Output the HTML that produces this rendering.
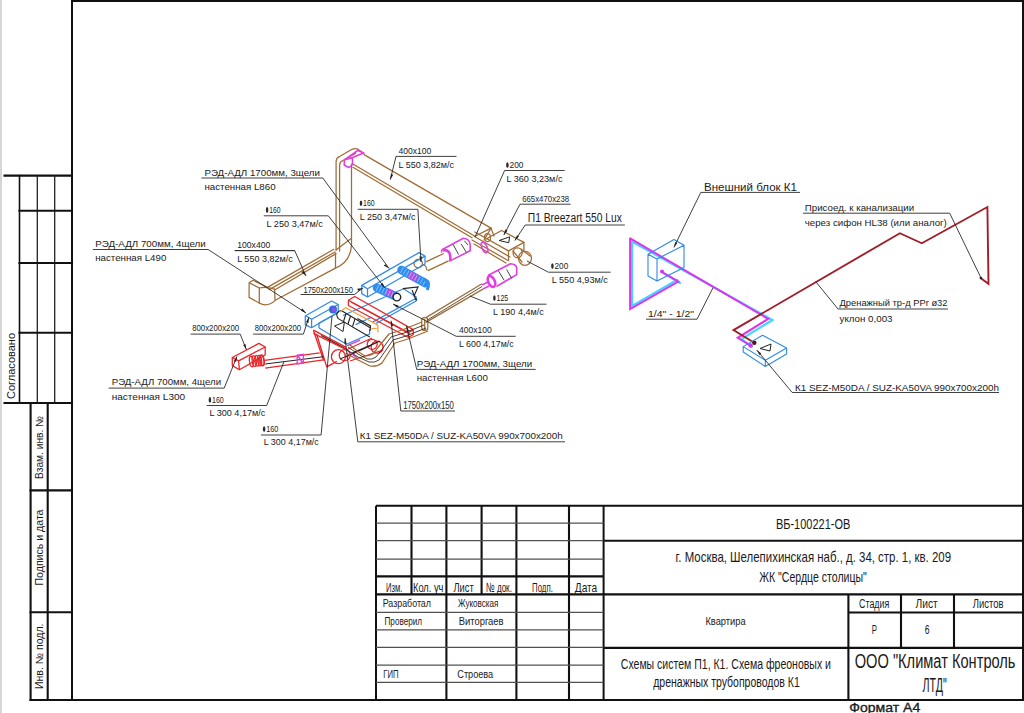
<!DOCTYPE html>
<html><head><meta charset="utf-8">
<style>
html,body{margin:0;padding:0;background:#fff;width:1024px;height:713px;overflow:hidden;}
svg{position:absolute;left:0;top:0;display:block;}
text{font-family:"Liberation Sans",sans-serif;fill:#1a1a1a;}
.g{font-family:"Liberation Sans",sans-serif;}
</style></head><body>
<svg width="1024" height="713" viewBox="0 0 1024 713">
<!-- left gray strip -->
<rect x="0" y="0" width="2" height="713" fill="#d6d6d6"/>
<!-- main frame -->
<g stroke="#111" fill="none" stroke-linecap="square">
<line x1="72" y1="1" x2="1023" y2="1" stroke-width="2"/>
<line x1="72" y1="1" x2="72" y2="700" stroke-width="2"/>
<line x1="1023" y1="1" x2="1023" y2="700" stroke-width="2"/>
<line x1="30.5" y1="700" x2="1023" y2="700" stroke-width="2"/>
<!-- left panel upper -->
<line x1="4.5" y1="175.6" x2="72" y2="175.6" stroke-width="2.1"/>
<line x1="19.5" y1="175.6" x2="19.5" y2="403" stroke-width="1.6"/>
<line x1="37.3" y1="175.6" x2="37.3" y2="403" stroke-width="1.3" stroke="#222"/>
<line x1="54.7" y1="175.6" x2="54.7" y2="403" stroke-width="1.3" stroke="#222"/>
<line x1="19.5" y1="210.7" x2="72" y2="210.7" stroke-width="2.1"/>
<line x1="19.5" y1="263" x2="72" y2="263" stroke-width="2.1"/>
<line x1="19.5" y1="332.8" x2="72" y2="332.8" stroke-width="2.1"/>
<line x1="4.5" y1="403" x2="72" y2="403" stroke-width="2.1"/>
<!-- left panel lower -->
<line x1="30.6" y1="403" x2="30.6" y2="700" stroke-width="2.1"/>
<line x1="47.7" y1="403" x2="47.7" y2="700" stroke-width="2.1"/>
<line x1="30.6" y1="490.4" x2="72" y2="490.4" stroke-width="2.1"/>
<line x1="30.6" y1="612.2" x2="72" y2="612.2" stroke-width="2.1"/>
</g>
<g font-size="10.5" fill="#222">
<text transform="translate(14.9,399) rotate(-90)" textLength="66" lengthAdjust="spacingAndGlyphs">Согласовано</text>
<text transform="translate(42.6,479) rotate(-90)" textLength="63" lengthAdjust="spacingAndGlyphs">Взам. инв. №</text>
<text transform="translate(42.6,585.5) rotate(-90)" textLength="76" lengthAdjust="spacingAndGlyphs">Подпись и дата</text>
<text transform="translate(42.6,689) rotate(-90)" textLength="65.5" lengthAdjust="spacingAndGlyphs">Инв. № подл.</text>
</g>


<!-- ================= DRAWING ================= -->
<g id="brown" fill="none" stroke="#a06c34" stroke-width="1.25" stroke-linejoin="round" stroke-linecap="round">
<!-- left terminal -->
<path d="M249.1,282.7 L249.1,297.4 L259.3,303 Q267,307.5 275,300.6 L274.6,289.2 Q266,286.5 259.3,288 L249.1,282.7 L253,280.3 L267.5,287.4"/>
<path d="M259.3,288 L259.3,303"/>
<!-- duct 100x400 -->
<path d="M267.5,287.4 L333.8,249.3"/>
<path d="M269.3,289.6 L334.9,252"/>
<path d="M274.6,290 L336,253.6"/>
<path d="M275.2,300.3 L335.5,268.1"/>
<path d="M335.5,252.9 L335.5,268.1"/>
<!-- elbow + vertical -->
<path d="M335.5,268.1 Q350.5,262 351.5,245 L351.5,164"/>
<path d="M336.1,250 L336.1,161.5 Q336.3,157.5 340,156.3 L352,149.3 Q356,147.8 359,150 L364,153.6"/>
<path d="M339.6,251 L339.6,165 Q339.8,161.5 343,160.5 L355.5,153.5"/>
<path d="M336,250 L350.7,238.8"/>
<!-- long duct 400x100 -->
<path d="M364,154.6 L491,228.1"/>
<path d="M352.9,164 L474.5,236"/>
<path d="M352.9,167.2 L472,237.8"/>
<!-- AHU -->
<path d="M486.1,239 L501.5,230.5 L523.9,242.4 L508.5,250.9 L474.8,232"/>
<path d="M523.9,242.4 L523.9,250.5 M508.5,250.9 L508.5,260.7 L472,240 M491,228.1 L484,240"/>
<path d="M491,228.1 L494,236 M474.5,236.5 L491,228.1"/>
<ellipse cx="487.5" cy="237.5" rx="3" ry="4" />
<!-- outlet -->
<ellipse cx="517.6" cy="252.8" rx="4.5" ry="5" />
<ellipse cx="525" cy="258.3" rx="6.5" ry="7" />
<path d="M513,251 L522,262 M521,249 L530,256"/>
<!-- duct from AHU going down-left (200 dia) -->
<path d="M474.5,236.5 L510,257 M474,244 L506,263"/>
<!-- small brown pipe 160 to blue box -->
<path d="M426.5,261.6 L443.2,253.7 M428.5,270.4 L448.1,261.1"/>
<circle cx="418.2" cy="263.6" r="4.2"/>
<path d="M421,266 Q425,262 427,270"/>
</g>
<g id="magenta" fill="none" stroke="#e040e0" stroke-width="1.6" stroke-linejoin="round">
<!-- top connector -->
<path d="M344.3,159.9 L357.8,150.5 L363.7,152.9 L352.5,157.6 Z M344.3,159.9 L344.3,165.2 L349,167.5 L352.5,164.6 L352.5,157.6"/>
<!-- silencer upper (pipe 160) -->
<path d="M441.9,249.7 L463.3,238.3 Q470,239 470.2,245 L470.2,250.8 L451,260.4"/>
<path d="M443,250.5 Q447,249 449.5,253 Q451,258 450,261.5" stroke-width="2.6"/>
<path d="M441.9,249.7 L441.5,252.5"/>
<!-- silencer ø200 (near AHU) -->

<ellipse cx="484.5" cy="247.5" rx="2.5" ry="5.5" transform="rotate(-25 484.5 247.5)"/>
<!-- silencer lower (125) -->
<path d="M488.3,275.2 L510.4,263.8 Q516,264 516.7,268 L516.7,274.6 L496.5,286.5"/>
<ellipse cx="491.5" cy="281.5" rx="3.2" ry="5.8" transform="rotate(-25 491.5 281.5)" stroke-width="2.6"/>
<path d="M482,285 L488,282 M483,289 L489,286"/>
</g>
<g fill="none" stroke="#333" stroke-width="0.9">
<path d="M453.1,244.4 L458.5,254.5 M461.1,243.9 L466.4,252.4 M464.3,240.7 L468,245"/>
<path d="M498.4,270.8 L504.1,280.2 M506.6,269.5 L511.6,278.3"/>
</g>
<g id="blue" fill="none" stroke="#2e8ae6" stroke-width="1.25" stroke-linejoin="round">
<!-- box 1750x200x150 -->
<path d="M361.7,285.4 L419.1,252.6 L425,256.1 L367.5,288.8 Z"/>
<path d="M361.7,285.4 L361.7,293.6 L367.5,297 L367.5,288.8 M367.5,297 L425,264 L425,256.1"/>
<!-- box 800x200x200 -->
<path d="M305.6,315.8 L331.6,301 L338.2,304.5 L311.6,319.3 Z"/>
<path d="M305.3,315.8 L305.3,324.9 L311.6,327.7 L311.6,319.3 M311.6,327.7 L338.2,312.5 L338.2,304.5"/>
<!-- K1 unit -->
<path d="M319,328 L346.5,344.3 L369.6,334 L369.6,329"/>
<path d="M319,328 L319,323 L337,313"/>
<path d="M343,315.5 L403.5,288.8 L416.1,296.8 L416.1,301 L376,323.5"/>
<path d="M372.6,322.1 L416.1,298.2"/>
<path d="M355.6,324.6 L372,317"/>
</g>
<g fill="none" stroke="#2f8cf0" stroke-width="8.6" stroke-linecap="round">
<path d="M401.5,270 L425.5,283.2"/>
<path d="M377,287.8 L394.5,295.8"/>
</g>
<g fill="none" stroke="#b848e0" stroke-width="7">
<path d="M409,274.2 L417.5,278.8"/>
<path d="M386.5,291.2 L393,294.3"/>
</g>
<g fill="none" stroke="#a8dcff" stroke-width="6" stroke-dasharray="0.9 2.3" opacity="0.75">
<path d="M401.5,270 L425.5,283.2"/>
<path d="M377,287.8 L394.5,295.8"/>
</g>
<path d="M424,279 Q431,283 427,290" fill="none" stroke="#2f8cf0" stroke-width="3"/>
<circle cx="333" cy="309.5" r="4" fill="#2b6fe0"/>
<circle cx="334" cy="310" r="2" fill="#b040e0"/>
<circle cx="396.9" cy="297.1" r="3.8" fill="#fff" stroke="#222" stroke-width="1.4"/>
<g fill="none" stroke="#222" stroke-width="1.1">
<path d="M321.25,335.6 L346.25,348.9"/>
<path d="M341.3,310.5 L370.6,328 M338.3,318.6 L369.8,337 M341.3,310.5 Q334,312 338.3,318.6"/>
<path d="M346,313.5 L343.5,321.5 M350.5,316 L348,324 M355,318.7 L352.5,326.7"/>
<path d="M357.4,318.6 L370.6,325.9 L370,331"/>
<path d="M402.9,288.6 L418,287 L414,296 L417,300.4 M412,290 L416,300"/>
</g>
<path d="M499.1,240.5 L509.7,236.9 L508.7,242.7 Z" fill="none" stroke="#222" stroke-width="1"/>
<path d="M334.5,326 L344.4,322 L343,331.6 Z" fill="none" stroke="#222" stroke-width="1"/>
<g id="red" fill="none" stroke="#e8262a" stroke-width="1.3" stroke-linejoin="round">
<!-- red box left 800x200x200 -->
<path d="M232.3,357.5 L258.9,343.4 L265.2,347 L238.6,360.8 Z"/>
<path d="M232.3,357.5 L232.3,365.6 L239.4,369.7 L238.6,360.8 M239.4,369.7 L265.2,355 L265.2,347"/>
<ellipse cx="251.5" cy="361.5" rx="2" ry="5.3" transform="rotate(-8 251.5 361.5)"/>
<ellipse cx="254.2" cy="361.2" rx="2" ry="5.3" transform="rotate(-8 254.2 361.2)"/>
<ellipse cx="256.9" cy="360.9" rx="2" ry="5.3" transform="rotate(-8 256.9 360.9)"/>
<ellipse cx="259.6" cy="360.6" rx="2" ry="5.3" transform="rotate(-8 259.6 360.6)"/>
<ellipse cx="262" cy="360.3" rx="2" ry="5.3" transform="rotate(-8 262 360.3)" stroke-width="1.8"/>
<!-- red pipe 160 -->
<path d="M264.4,360.3 L319.7,352.8 M265.2,368.1 L323.6,359.8"/>
<!-- red box 1750x200x150 -->
<path d="M348.4,300.3 L354.7,296.5 L413.2,329.6 L408.4,332.6 Z M348.4,300.3 L348.4,305.5 L408.4,337.5 L408.4,332.6 M408.4,337.5 L413.2,334.5 L413.2,329.6"/>
<path d="M351,302 L410,334"/>
<!-- tray -->
<path d="M313.4,330.2 L346.25,347.3 M313.4,333.3 L346.25,349.7"/>
<path d="M313.4,330.2 L323.6,360.6 M316.6,334 L326.7,366.9 L336.9,361.4"/>
<!-- elbows -->
<circle cx="338.4" cy="356.7" r="7"/>
<circle cx="344.7" cy="355.2" r="5.5"/>
<circle cx="372.2" cy="344.3" r="5"/>
<circle cx="377.1" cy="347.2" r="6"/>
<path d="M346,350 L372,338 M346,357 L378,342 M350,361 L383,350"/>
</g>
<g fill="none" stroke="#222" stroke-width="1">
<path d="M265.2,364 L323.6,356.7"/>
<path d="M340,359 L372,345 M352,353 L380,341"/>
</g>
<g fill="none" stroke="#e040e0" stroke-width="1.4">
<path d="M297.2,355.2 L303.4,354.4 L303.4,363.2 L297.2,364 Z M297.5,355.5 L303,363"/>
<path d="M347,345.8 L360,340 M350,352 L357,358"/>
</g>
<g fill="none" stroke="#f0a040" stroke-width="1.2">
<path d="M339.8,312 L345.7,307.6 L377.9,325.2 L377.9,332.5 M371.3,328.8 L377.9,328"/>
</g>
<g fill="none" stroke="#a06c34" stroke-width="1.25" stroke-linejoin="round">
<path d="M425.5,317.9 L482,283.7 M425.5,322.6 L482.9,289.1"/>
<rect x="421.7" y="317.5" width="6.1" height="12.8" rx="2.6"/>
<path d="M424.7,319 L424.7,330"/>
<path d="M428,331 L408,339 L395,343 L389,352 L382,363 Q377,367 370,366 L358,360 L346,353"/>
<path d="M422,322 L402,330 L389,334 L380,345 L373,354 Q370,356 365,356 L357,351 L349,344"/>
</g>
<g fill="none" stroke="#3a2a1a" stroke-width="0.9">
<path d="M427,320.3 L482,286.5" stroke="#4a3a2a"/>
<path d="M426,328 L406,336 L393,340 L386,350 L379,360 Q375,363 369,362 L358,357 L347,350"/>
<path d="M424,325 L404,333 L391,337 L383,348 L376,357 Q372,360 367,359 L358,354 L348,347"/>
</g>

<!-- ============== LEADERS ============== -->
<g fill="none" stroke="#2a2a2a" stroke-width="0.9">
<path d="M201.3,178 L322.8,178 L389.2,268.6"/>
<path d="M92.8,249.5 L208.1,249.5 L306,313"/>
<path d="M263.75,215.8 L328.3,215.8 L385,288"/>
<path d="M234.8,250.6 L294.7,250.6 L306,276"/>
<path d="M300.5,294.5 L354.4,294.5 L363,288"/>
<path d="M564.7,170.5 L504.6,170.5 L475.1,236.9"/>
<path d="M520,204.2 L570.6,204.2 M520,204.2 L503.8,235.1"/>
<path d="M525.2,225 L624.8,225 M525.2,225 L514.9,240.5"/>
<path d="M548.4,272.2 L610.6,272.2 M548.4,272.2 L527,261"/>
<path d="M490.4,304.2 L546.5,304.2 M490.4,304.2 L469.9,296"/>
<path d="M456.2,336.3 L515.7,336.3 M456.2,336.3 L393,304"/>
<path d="M416.7,369.4 L535.7,369.4 M416.7,369.4 L406.5,326"/>
<path d="M400.8,411 L455,411 M400.8,411 L391.1,320.8"/>
<path d="M357.8,441.8 L565,441.8 M357.8,441.8 L345,338"/>
<path d="M260.9,435 L321.1,435 L332,316"/>
<path d="M206.7,405.5 L266.7,405.5 L283.9,361.9"/>
<path d="M108.6,388.1 L224.2,388.1 L237,356.4"/>
<path d="M190.6,334.1 L240.2,334.1 L246.4,349.7"/>
<path d="M253.1,334.1 L303.4,334.1 L308.9,317.3"/>
<path d="M234.8,250.6 L294.7,250.6"/>
<path d="M396,156.4 L456.5,156.4 M396,156.4 L390.3,179.7"/>
<path d="M357.7,209.3 L417.9,209.3 L421,262"/>
</g>
<g fill="#2a2a2a" font-size="9.4">
<text x="204.4" y="175.9" textLength="115.6" lengthAdjust="spacingAndGlyphs">РЭД-АДЛ 1700мм, 3щели</text>
<text x="204.4" y="189.7" textLength="71.2" lengthAdjust="spacingAndGlyphs">настенная L860</text>
<text x="95.2" y="247.3" textLength="110.6" lengthAdjust="spacingAndGlyphs">РЭД-АДЛ 700мм, 4щели</text>
<text x="95.2" y="261.25" textLength="71.1" lengthAdjust="spacingAndGlyphs">настенная L490</text>
<text x="111.7" y="385" textLength="109.4" lengthAdjust="spacingAndGlyphs">РЭД-АДЛ 700мм, 4щели</text>
<text x="111.7" y="399.8" textLength="73.5" lengthAdjust="spacingAndGlyphs">настенная  L300</text>
<text x="416.7" y="366.6" textLength="115.4" lengthAdjust="spacingAndGlyphs">РЭД-АДЛ 1700мм, 3щели</text>
<text x="416.7" y="380.9" textLength="71.1" lengthAdjust="spacingAndGlyphs">настенная L600</text>
<text x="527.8" y="222.1" font-size="12.5" textLength="94" lengthAdjust="spacingAndGlyphs">П1 Breezart 550 Lux</text>
<text x="359.7" y="439.4" textLength="203.1" lengthAdjust="spacingAndGlyphs">К1 SEZ-M50DA / SUZ-KA50VA 990x700x200h</text>
<text x="522.2" y="201.6" font-size="8.8" textLength="46.9" lengthAdjust="spacingAndGlyphs">665x470x238</text>
<text x="303.5" y="292.6" font-size="9.3" textLength="49.4" lengthAdjust="spacingAndGlyphs">1750x200x150</text>
<text x="403.2" y="408.7" font-size="10" textLength="50.6" lengthAdjust="spacingAndGlyphs">1750x200x150</text>
<text x="192.2" y="331.4" font-size="8.3" textLength="46.9" lengthAdjust="spacingAndGlyphs">800x200x200</text>
<text x="254.7" y="331.4" font-size="8.3" textLength="46.4" lengthAdjust="spacingAndGlyphs">800x200x200</text>
</g>
<g fill="#2a2a2a" font-size="8.6">
<ellipse cx="267.1" cy="210.0" rx="1.25" ry="2.9"/><text x="269.2" y="213.1" textLength="11.4" lengthAdjust="spacingAndGlyphs">160</text>
<text x="266.6" y="226.7" textLength="56.2" lengthAdjust="spacingAndGlyphs">L 250 3,47м/с</text>
<text x="237.2" y="248.4" textLength="33.1" lengthAdjust="spacingAndGlyphs">100x400</text>
<text x="237.2" y="261.6" textLength="55.5" lengthAdjust="spacingAndGlyphs">L 550 3,82м/с</text>
<ellipse cx="507.4" cy="165.2" rx="1.25" ry="2.9"/><text x="509.5" y="168.3" textLength="13.9" lengthAdjust="spacingAndGlyphs">200</text>
<text x="506.4" y="181.5" textLength="56.1" lengthAdjust="spacingAndGlyphs">L 360 3,23м/с</text>
<text x="398.5" y="153.9" textLength="32.8" lengthAdjust="spacingAndGlyphs">400x100</text>
<text x="398.5" y="167.8" textLength="55.5" lengthAdjust="spacingAndGlyphs">L 550 3,82м/с</text>
<ellipse cx="361.0" cy="203.3" rx="1.25" ry="2.9"/><text x="363.1" y="206.4" textLength="11.6" lengthAdjust="spacingAndGlyphs">160</text>
<text x="359.7" y="220.4" textLength="56" lengthAdjust="spacingAndGlyphs">L 250 3,47м/с</text>
<ellipse cx="552.4" cy="266.1" rx="1.25" ry="2.9"/><text x="554.5" y="269.2" textLength="13.7" lengthAdjust="spacingAndGlyphs">200</text>
<text x="551.8" y="283.2" textLength="56" lengthAdjust="spacingAndGlyphs">L 550 4,93м/с</text>
<ellipse cx="494.4" cy="298.1" rx="1.25" ry="2.9"/><text x="496.5" y="301.2" textLength="11.7" lengthAdjust="spacingAndGlyphs">125</text>
<text x="493.1" y="315.1" textLength="50.6" lengthAdjust="spacingAndGlyphs">L 190 4,4м/с</text>
<text x="459" y="333.2" textLength="32.8" lengthAdjust="spacingAndGlyphs">400x100</text>
<text x="459" y="346.8" textLength="54.7" lengthAdjust="spacingAndGlyphs">L 600 4,17м/с</text>
<ellipse cx="209.9" cy="399.9" rx="1.25" ry="2.9"/><text x="212.0" y="403.0" textLength="11.8" lengthAdjust="spacingAndGlyphs">160</text>
<text x="209.4" y="416.3" textLength="56" lengthAdjust="spacingAndGlyphs">L 300 4,17м/с</text>
<ellipse cx="264.1" cy="429.2" rx="1.25" ry="2.9"/><text x="266.2" y="432.3" textLength="12.2" lengthAdjust="spacingAndGlyphs">160</text>
<text x="263.75" y="445.3" textLength="55" lengthAdjust="spacingAndGlyphs">L 300 4,17м/с</text>
</g>


<g fill="#222" stroke="none">
<path d="M393,304 l5.5,1.6 l-1.2,2.4 z"/>
<path d="M406.5,326 l0.3,5.6 l2.3,-0.6 z"/>
<path d="M391.1,320.8 l-0.3,5.6 l2.4,-0.3 z"/>
<path d="M306,313 l-5.2,-2.4 l1.6,-2.1 z"/>
<path d="M345,338 l-0.8,5.6 l2.4,0.2 z"/>
<path d="M389.2,268.6 l-3.6,-4.4 l-1.9,1.4 z"/>
<path d="M306,276 l-2.4,-5 l-2.3,1 z"/>
<path d="M390.3,179.7 l0.6,-5.6 l2.3,0.6 z"/>
<path d="M363,288 l-4.8,3 l-1,-2.2 z"/>
</g>
<g fill="#222" stroke="none"><path d="M246.4,349.7 L243.2,345.1 L245.5,344.1 Z"/><path d="M308.9,317.3 L308.4,322.9 L306.0,322.1 Z"/><path d="M503.8,235.1 L505.2,229.6 L507.5,230.8 Z"/><path d="M514.9,240.5 L516.9,235.2 L519.0,236.6 Z"/><path d="M673.9,247.4 L675.2,241.9 L677.4,243.0 Z"/><path d="M756.8,350.0 L761.3,353.4 L759.4,355.0 Z"/><path d="M237.0,356.4 L236.1,362.0 L233.8,361.0 Z"/><path d="M421.0,262.0 L419.4,256.6 L421.9,256.4 Z"/><path d="M385.0,288.0 L380.6,284.4 L382.6,282.9 Z"/></g>
<!-- ============== RIGHT DRAWING ============== -->
<g fill="none" stroke-linejoin="miter" stroke-linecap="round">
<path d="M632,241.6 L632,305.9 L677,280 M680,283 L664,273.5 M632,241.6 L772.5,320 L741,339.2 L752,346.5" stroke="#40d8ff" stroke-width="2.2"/>
<path d="M630.1,238.4 L630.1,309.1 L678.3,281.5 L662,272 M630.1,238.4 L768.2,318.9 L737.7,337.8 L750.5,345.5" stroke="#e030f0" stroke-width="2"/>
<path d="M754.2,342.8 L733.5,330.1 L899.9,233.2 L921.8,243.3 L987.4,207 L988.5,283.8 L980.5,278" stroke="#a0202a" stroke-width="1.9"/>
</g>
<circle cx="662" cy="271.5" r="2" fill="#e030f0"/>
<circle cx="750.5" cy="345.5" r="2.2" fill="#e030f0"/>
<circle cx="754.3" cy="342.8" r="2.2" fill="#5a1010"/>
<g fill="none" stroke="#2e8ae6" stroke-width="1.1" stroke-linejoin="round">
<!-- outdoor unit -->
<path d="M648,254.2 L674,239.5 L684,245.2 L657,259 Z M648,254.2 L648,276 L657,281 L657,259 M657,281 L684,267.6 L684,245.2"/>
<!-- indoor unit -->
<path d="M743.2,346.6 L762.5,335.3 L786.6,348 L765.3,360.2 Z M743.2,346.6 L743.2,352 L765.3,366.5 L786.6,354 L786.6,348 M765.3,360.2 L765.3,366.5"/>
</g>
<path d="M760,348.5 L771,344 L770,351 Z" fill="none" stroke="#222" stroke-width="1"/>
<g fill="none" stroke="#2a2a2a" stroke-width="0.9">
<path d="M700.8,192.4 L800,192.4 M700.8,192.4 L673.9,247.4"/>
<path d="M646,319.2 L697,319.2 L713,287.8"/>
<path d="M803,213.2 L949.7,213.2 L981,278"/>
<path d="M838,309 L948,309 M838,309 L815.7,281.6"/>
<path d="M792.2,392.5 L999,392.5 M792.2,392.5 L756.8,350"/>
</g>
<circle cx="981" cy="278" r="1.2" fill="#222"/>
<g fill="#2a2a2a" font-size="9.4">
<text x="804.8" y="210.5" textLength="109.4" lengthAdjust="spacingAndGlyphs">Присоед. к канализации</text>
<text x="804.8" y="225.7" textLength="142" lengthAdjust="spacingAndGlyphs">через сифон HL38 (или аналог)</text>
<text x="839.5" y="306" textLength="108" lengthAdjust="spacingAndGlyphs">Дренажный тр-д PPr ø32</text>
<text x="839.5" y="321.5" textLength="53" lengthAdjust="spacingAndGlyphs">уклон 0,003</text>
<text x="795" y="390.8" textLength="204" lengthAdjust="spacingAndGlyphs">К1 SEZ-M50DA / SUZ-KA50VA 990x700x200h</text>
</g>
<text x="704" y="191" font-size="11.5" fill="#2a2a2a" textLength="93" lengthAdjust="spacingAndGlyphs">Внешний блок К1</text>
<text x="648" y="317" font-size="8.6" fill="#2a2a2a" textLength="46" lengthAdjust="spacingAndGlyphs">1/4" - 1/2"</text>

<!-- TITLE BLOCK -->
<g stroke="#111" fill="none">
<line x1="376" y1="505.8" x2="1023" y2="505.8" stroke-width="2"/>
<line x1="376" y1="505.8" x2="376" y2="700" stroke-width="2"/>
<line x1="411.5" y1="505.8" x2="411.5" y2="594.4" stroke-width="2.1"/>
<line x1="446.4" y1="505.8" x2="446.4" y2="700" stroke-width="2.1"/>
<line x1="481.6" y1="505.8" x2="481.6" y2="594.4" stroke-width="2.1"/>
<line x1="516.4" y1="505.8" x2="516.4" y2="700" stroke-width="2.1"/>
<line x1="569" y1="505.8" x2="569" y2="700" stroke-width="2.1"/>
<line x1="603.6" y1="505.8" x2="603.6" y2="700" stroke-width="2"/>
<line x1="376" y1="523.1" x2="603.6" y2="523.1" stroke-width="1.25" stroke="#505050"/>
<line x1="376" y1="540.7" x2="603.6" y2="540.7" stroke-width="1.25" stroke="#505050"/>
<line x1="376" y1="559" x2="603.6" y2="559" stroke-width="1.25" stroke="#505050"/>
<line x1="376" y1="576.4" x2="603.6" y2="576.4" stroke-width="2.1"/>
<line x1="376" y1="594.4" x2="1023" y2="594.4" stroke-width="2.1"/>
<line x1="376" y1="612.4" x2="603.6" y2="612.4" stroke-width="1.25" stroke="#505050"/>
<line x1="376" y1="629.8" x2="603.6" y2="629.8" stroke-width="1.25" stroke="#505050"/>
<line x1="376" y1="647.4" x2="603.6" y2="647.4" stroke-width="1.25" stroke="#505050"/>
<line x1="376" y1="665" x2="603.6" y2="665" stroke-width="1.25" stroke="#505050"/>
<line x1="376" y1="682.3" x2="603.6" y2="682.3" stroke-width="1.25" stroke="#505050"/>
<line x1="603.6" y1="540.7" x2="1023" y2="540.7" stroke-width="2.1"/>
<line x1="603.6" y1="647.9" x2="1023" y2="647.9" stroke-width="2.1"/>
<line x1="848.4" y1="594.4" x2="848.4" y2="700" stroke-width="2.1"/>
<line x1="901" y1="594.4" x2="901" y2="647.9" stroke-width="2.1"/>
<line x1="954" y1="594.4" x2="954" y2="647.9" stroke-width="2.1"/>
<line x1="848.4" y1="612.5" x2="1023" y2="612.5" stroke-width="2.1"/>
</g>

<g fill="#262626">
<g font-size="13.6">
<text x="386.1" y="591.5" textLength="16.4" lengthAdjust="spacingAndGlyphs">Изм.</text>
<text x="413" y="591.5" textLength="30.4" lengthAdjust="spacingAndGlyphs">Кол. уч</text>
<text x="453.5" y="591.5" textLength="20.2" lengthAdjust="spacingAndGlyphs">Лист</text>
<text x="486" y="591.5" textLength="25.9" lengthAdjust="spacingAndGlyphs">№ док.</text>
<text x="532.1" y="591.5" textLength="20.7" lengthAdjust="spacingAndGlyphs">Подп.</text>
<text x="574.8" y="591.5" textLength="22.4" lengthAdjust="spacingAndGlyphs">Дата</text>
</g>
<g font-size="11.8">
<text x="382.7" y="607.2" textLength="48.3" lengthAdjust="spacingAndGlyphs">Разработал</text>
<text x="458" y="607.2" textLength="40.4" lengthAdjust="spacingAndGlyphs">Жуковская</text>
<text x="384.5" y="624.5" textLength="37.5" lengthAdjust="spacingAndGlyphs">Проверил</text>
<text x="458.7" y="624.5" textLength="44.9" lengthAdjust="spacingAndGlyphs">Виторгаев</text>
<text x="383.2" y="677.7" textLength="15.3" lengthAdjust="spacingAndGlyphs">ГИП</text>
<text x="457.3" y="677.7" textLength="35.9" lengthAdjust="spacingAndGlyphs">Строева</text>
</g>
<g font-size="14.5">
<text x="775.9" y="529.1" textLength="74.4" lengthAdjust="spacingAndGlyphs">ВБ-100221-ОВ</text>
<text x="675.6" y="562.1" textLength="275.4" lengthAdjust="spacingAndGlyphs">г. Москва, Шелепихинская наб., д. 34, стр. 1, кв. 209</text>
<text x="759.3" y="582.4" textLength="107.5" lengthAdjust="spacingAndGlyphs">ЖК "Сердце столицы"</text>
</g>
<g font-size="12.5">
<text x="859" y="607.8" textLength="30.3" lengthAdjust="spacingAndGlyphs">Стадия</text>
<text x="915.5" y="607.8" textLength="22.3" lengthAdjust="spacingAndGlyphs">Лист</text>
<text x="972.8" y="607.8" textLength="30.7" lengthAdjust="spacingAndGlyphs">Листов</text>
<text x="871.8" y="634" textLength="5.2" lengthAdjust="spacingAndGlyphs">Р</text>
<text x="924.7" y="634" textLength="4.8" lengthAdjust="spacingAndGlyphs">6</text>
</g>
<text x="705.4" y="625.3" font-size="11" textLength="40.3" lengthAdjust="spacingAndGlyphs">Квартира</text>
<g font-size="14">
<text x="620.8" y="669.3" textLength="210.2" lengthAdjust="spacingAndGlyphs">Схемы систем П1, К1. Схема фреоновых и</text>
<text x="653.2" y="686.8" textLength="146.6" lengthAdjust="spacingAndGlyphs">дренажных трубопроводов К1</text>
</g>
<g font-size="19.5" fill="#606060">
<text x="854.7" y="668.1" textLength="160.8" lengthAdjust="spacingAndGlyphs">ООО "Климат Контроль</text>
<text x="922.5" y="691.6" textLength="24.3" lengthAdjust="spacingAndGlyphs">ЛТД"</text>
</g>
<text x="849.3" y="711.6" font-size="13.2" fill="#222" stroke="#222" stroke-width="0.35" textLength="71" lengthAdjust="spacingAndGlyphs">Формат А4</text>
</g>
</svg>
</body></html>
